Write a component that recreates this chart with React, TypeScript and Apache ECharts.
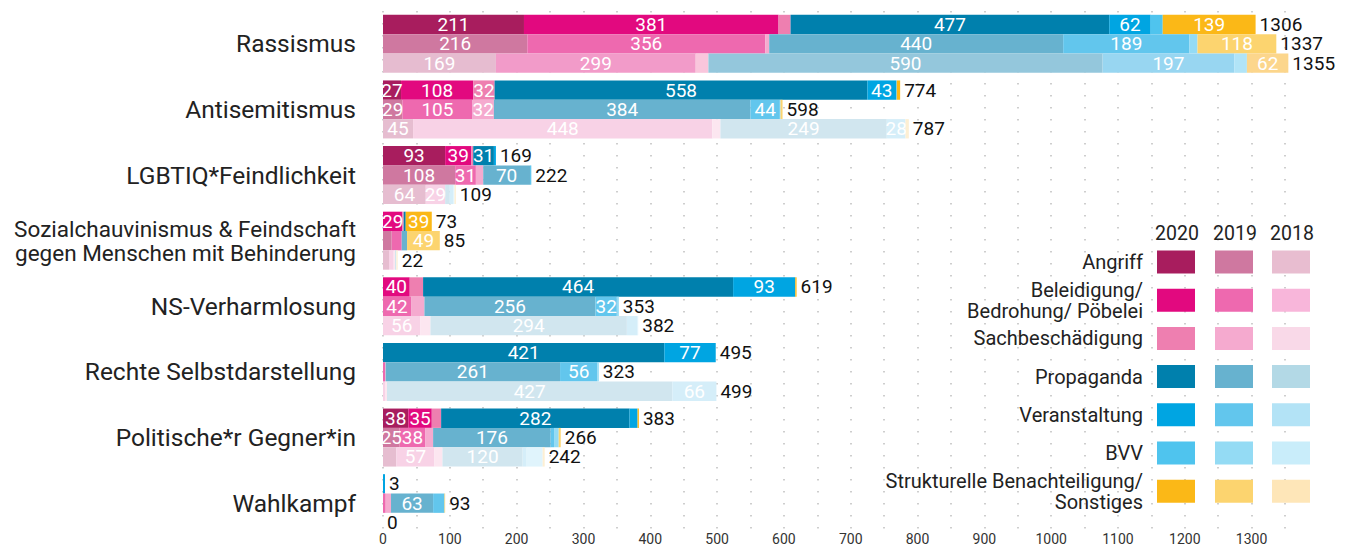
import React, { useEffect, useRef } from 'react';
import * as echarts from 'echarts';

const categories = [
  'Rassismus',
  'Antisemitismus',
  'LGBTIQ*Feindlichkeit',
  'Sozialchauvinismus & Feindschaft\ngegen Menschen mit Behinderung',
  'NS-Verharmlosung',
  'Rechte Selbstdarstellung',
  'Politische*r Gegner*in',
  'Wahlkampf',
];
const types = [
  'Angriff',
  'Beleidigung/\nBedrohung/ Pöbelei',
  'Sachbeschädigung',
  'Propaganda',
  'Veranstaltung',
  'BVV',
  'Strukturelle Benachteiligung/\nSonstiges',
];
const years = ['2020', '2019', '2018'];

// values per type (rows) per category (columns)
const values2020 = [
  [211, 27, 93, 0, 0, 0, 38, 0],
  [381, 108, 39, 29, 40, 0, 35, 0],
  [18, 32, 3, 2, 20, 0, 14, 0],
  [477, 558, 31, 3, 464, 421, 282, 0],
  [62, 43, 3, 0, 93, 77, 12, 3],
  [18, 1, 0, 0, 0, 0, 0, 0],
  [139, 5, 0, 39, 2, 0, 2, 0],
];
const values2019 = [
  [216, 29, 108, 13, 0, 0, 25, 0],
  [356, 105, 31, 15, 42, 3, 38, 4],
  [6, 32, 11, 0, 20, 1, 12, 8],
  [440, 384, 70, 8, 256, 261, 176, 63],
  [189, 44, 2, 0, 32, 56, 5, 17],
  [12, 1, 0, 0, 3, 2, 7, 0],
  [118, 3, 0, 49, 0, 0, 3, 1],
];
const values2018 = [
  [169, 45, 64, 9, 0, 0, 20, 0],
  [299, 448, 29, 7, 56, 3, 57, 0],
  [19, 12, 0, 2, 15, 3, 12, 0],
  [590, 249, 7, 2, 294, 427, 120, 0],
  [197, 28, 5, 0, 16, 66, 6, 0],
  [19, 0, 2, 0, 1, 0, 24, 0],
  [62, 5, 2, 2, 0, 0, 3, 0],
];
const totals2020 = [1306, 774, 169, 73, 619, 495, 383, 3];
const totals2019 = [1337, 598, 222, 85, 353, 323, 266, 93];
const totals2018 = [1355, 787, 109, 22, 382, 499, 242, 0];

const c2020 = ['#a81d5e', '#e2097f', '#ee7fb0', '#0080ad', '#00a5e2', '#4fc4ee', '#fbb817'];
const c2019 = ['#cf78a0', '#ee69af', '#f5aacf', '#67b2cf', '#62c6ed', '#94dbf4', '#fcd46f'];
const c2018 = ['#e8bdd0', '#f8b6da', '#f9d9e8', '#b3d9e6', '#b3e3f6', '#c9edfa', '#fee6b8'];
const c2018Bars = ['#e6bdd0', '#f8d2e6', '#fce6f0', '#d1e6ef', '#d5eef9', '#e0f4fc', '#fdefd3'];
const c2018First = ['#e6bcd0', '#f29bc9', '#f9c6dc', '#94c7dc', '#98d6f1', '#b1e4f7', '#fcd68c'];

const FONT = 'Roboto';

function buildOption() {
  const yearValues = [values2020, values2019, values2018];
  const yearTotals = [totals2020, totals2019, totals2018];
  const series: any[] = [];
  years.forEach((year, j) => {
    const stack = 'y' + year;
    types.forEach((t, i) => {
      let color: any;
      if (j === 0) color = c2020[i];
      else if (j === 1) color = c2019[i];
      else color = (p: any) => (p.dataIndex === 0 ? c2018First[i] : c2018Bars[i]);
      series.push({
        type: 'bar',
        name: t.replace('\n', ' ') + ' ' + year,
        stack,
        data: yearValues[j][i],
        barGap: 0,
        barCategoryGap: '11.6%',
        clip: false,
        itemStyle: { color },
        label: {
          show: true,
          position: 'inside',
          color: '#fff',
          fontSize: 19,
          fontFamily: FONT,
          formatter: (p: any) => (p.value >= 25 ? String(p.value) : ''),
        },
      });
    });
    series.push({
      type: 'bar',
      name: 'Summe ' + year,
      stack,
      data: yearTotals[j].map(() => 0),
      barGap: 0,
      barCategoryGap: '11.6%',
      clip: false,
      itemStyle: { color: 'transparent' },
      label: {
        show: true,
        position: 'right',
        distance: 4,
        color: '#111',
        fontSize: 19,
        fontFamily: FONT,
        formatter: (p: any) => String(yearTotals[j][p.dataIndex]),
      },
    });
  });

  const palettes = [c2020, c2019, c2018];
  const colX = [1157, 1215, 1272];
  const rowTop = 262;
  const rowStep = 38.2;
  const graphic: any[] = [];
  years.forEach((y, j) => {
    graphic.push({
      type: 'text',
      x: colX[j] + 20,
      y: 233,
      z: 100,
      style: { text: y, fill: '#222', fontSize: 19.5, fontFamily: FONT, align: 'center', verticalAlign: 'middle' },
    });
  });
  types.forEach((t, i) => {
    const cy = rowTop + i * rowStep;
    graphic.push({
      type: 'text',
      x: 1143,
      y: cy,
      z: 100,
      style: {
        text: t,
        fill: '#222',
        fontSize: 20,
        lineHeight: 21,
        fontFamily: FONT,
        align: 'right',
        verticalAlign: 'middle',
      },
    });
    palettes.forEach((pal, j) => {
      graphic.push({
        type: 'rect',
        z: 100,
        shape: { x: colX[j], y: cy - 11.5, width: 38, height: 23 },
        style: { fill: pal[i] },
      });
    });
  });

  return {
    animation: false,
    textStyle: { fontFamily: FONT },
    grid: { left: 383, right: 65, top: 11, bottom: 11, containLabel: false, outerBoundsMode: 'none' },
    xAxis: {
      type: 'value',
      min: 0,
      max: 1350,
      interval: 50,
      axisLine: { show: false },
      axisTick: { show: false },
      axisLabel: {
        margin: -4,
        fontSize: 14,
        color: '#333',
        fontFamily: FONT,
        formatter: (v: number) => (v % 100 === 0 ? String(v) : ''),
      },
      splitLine: { show: true, lineStyle: { color: '#c2c2c2', width: 1.6, type: [1.6, 10.4] } },
    },
    yAxis: {
      type: 'category',
      data: categories,
      inverse: true,
      axisLine: { show: false },
      axisTick: { show: false },
      axisLabel: {
        margin: 27,
        color: '#222',
        fontFamily: FONT,
        align: 'right',
        formatter: (v: string) =>
          v.includes('\n')
            ? v
                .split('\n')
                .map((l) => `{s|${l}}`)
                .join('\n')
            : `{b|${v}}`,
        rich: {
          b: { fontSize: 24.5, fontFamily: FONT, color: '#222', align: 'right' },
          s: { fontSize: 22.5, lineHeight: 24, fontFamily: FONT, color: '#222', align: 'right' },
        },
      },
    },
    series,
    graphic,
  };
}

export default function App() {
  const ref = useRef<HTMLDivElement>(null);
  useEffect(() => {
    const chart = echarts.init(ref.current!, null, { renderer: 'svg' });
    chart.setOption(buildOption() as any);
    return () => chart.dispose();
  }, []);
  return <div ref={ref} style={{ position: 'fixed', left: 0, top: 0, width: 1350, height: 547, background: '#fff' }} />;
}
